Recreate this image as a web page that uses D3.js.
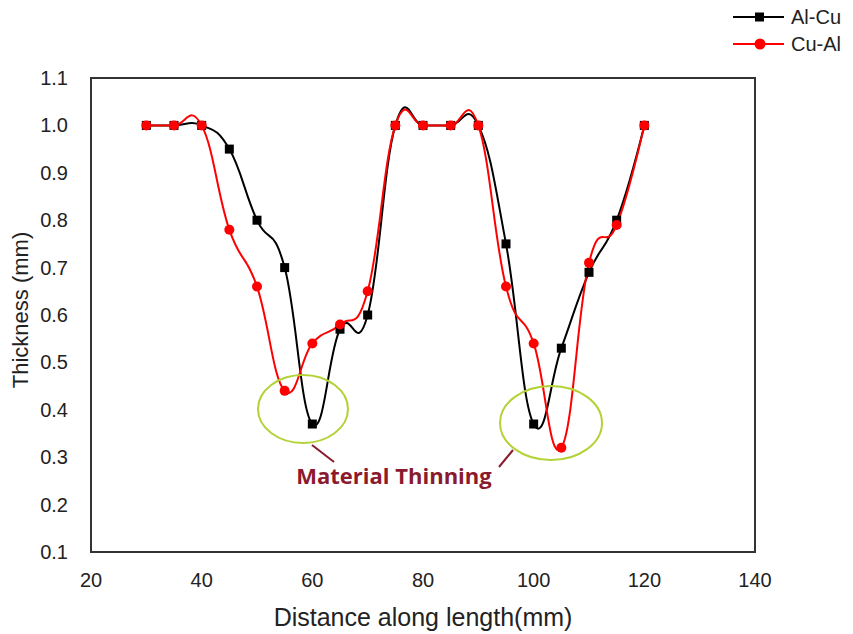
<!DOCTYPE html>
<html>
  <head>
    <script src="https://d3js.org/d3.v7.min.js"></script>
  </head>
  <body>
    <svg id="viz" width="853" height="634"></svg>
  </body>
  <script>
    const distance = [30, 35, 40, 45, 50, 55, 60, 65, 70, 75, 80, 85, 90, 95, 100, 105, 110, 115, 120];
    const alCu = [1.0, 1.0, 1.0, 0.95, 0.8, 0.7, 0.37, 0.57, 0.6, 1.0, 1.0, 1.0, 1.0, 0.75, 0.37, 0.53, 0.69, 0.8, 1.0];
    const cuAl = [1.0, 1.0, 1.0, 0.78, 0.66, 0.44, 0.54, 0.58, 0.65, 1.0, 1.0, 1.0, 1.0, 0.66, 0.54, 0.32, 0.71, 0.79, 1.0];
    const xTicks = [20, 40, 60, 80, 100, 120, 140];
    const yTicks = [0.1, 0.2, 0.3, 0.4, 0.5, 0.6, 0.7, 0.8, 0.9, 1.0, 1.1];
    const seriesNames = ["Al-Cu", "Cu-Al"];
    const seriesColors = ["#000000", "#ff0000"];

    function draw() {
      const svg = d3.select("svg#viz");
      const font = "Liberation Sans, Arial, sans-serif";

      const x = d3.scaleLinear().domain([20, 140]).range([91, 755]);
      const y = d3.scaleLinear().domain([0.1, 1.1]).range([552, 78]);

      svg.append("rect").attr("width", 853).attr("height", 634).attr("fill", "#fff");

      // tick labels (no tick marks in the original)
      svg.append("g")
        .selectAll("text")
        .data(xTicks)
        .join("text")
        .attr("x", (d) => x(d))
        .attr("y", 587)
        .attr("text-anchor", "middle")
        .attr("font-family", font)
        .attr("font-size", 20)
        .attr("fill", "#222")
        .text((d) => d);

      svg.append("g")
        .selectAll("text")
        .data(yTicks)
        .join("text")
        .attr("x", 68)
        .attr("y", (d) => y(d) + 7)
        .attr("text-anchor", "end")
        .attr("font-family", font)
        .attr("font-size", 20)
        .attr("fill", "#222")
        .text((d) => d3.format(".1f")(d));

      // plot box
      svg.append("rect")
        .attr("x", x(20))
        .attr("y", y(1.1))
        .attr("width", x(140) - x(20))
        .attr("height", y(0.1) - y(1.1))
        .attr("fill", "none")
        .attr("stroke", "#333")
        .attr("stroke-width", 2);

      // axis titles
      svg.append("text")
        .attr("x", 423)
        .attr("y", 626)
        .attr("text-anchor", "middle")
        .attr("font-family", font)
        .attr("font-size", 25)
        .attr("fill", "#222")
        .text("Distance along length(mm)");

      svg.append("text")
        .attr("transform", "translate(28,310) rotate(-90)")
        .attr("text-anchor", "middle")
        .attr("font-family", font)
        .attr("font-size", 22)
        .attr("fill", "#222")
        .text("Thickness (mm)");

      // Excel-like smoothed line, a bit looser than plain Catmull-Rom
      const line = d3.line()
        .x((d) => x(d[0]))
        .y((d) => y(d[1]))
        .curve(d3.curveCardinal.tension(-0.3));

      const series = [alCu, cuAl].map((vals) => distance.map((d, i) => [d, vals[i]]));

      series.forEach((pts, k) => {
        svg.append("path")
          .datum(pts)
          .attr("d", line)
          .attr("fill", "none")
          .attr("stroke", seriesColors[k])
          .attr("stroke-width", 2);
      });

      // markers: squares for Al-Cu, circles for Cu-Al
      svg.append("g")
        .selectAll("rect")
        .data(series[0])
        .join("rect")
        .attr("x", (d) => x(d[0]) - 4.5)
        .attr("y", (d) => y(d[1]) - 4.5)
        .attr("width", 9)
        .attr("height", 9)
        .attr("fill", seriesColors[0]);

      svg.append("g")
        .selectAll("circle")
        .data(series[1])
        .join("circle")
        .attr("cx", (d) => x(d[0]))
        .attr("cy", (d) => y(d[1]))
        .attr("r", 5)
        .attr("fill", seriesColors[1]);

      // annotation
      const ann = svg.append("g");
      ann.append("ellipse")
        .attr("cx", 303).attr("cy", 409).attr("rx", 45).attr("ry", 34)
        .attr("fill", "none").attr("stroke", "#b2d235").attr("stroke-width", 2);
      ann.append("ellipse")
        .attr("cx", 551).attr("cy", 423).attr("rx", 51).attr("ry", 37)
        .attr("fill", "none").attr("stroke", "#b2d235").attr("stroke-width", 2);
      ann.append("line")
        .attr("x1", 312).attr("y1", 445).attr("x2", 334).attr("y2", 462)
        .attr("stroke", "#8b1a2e").attr("stroke-width", 2);
      ann.append("line")
        .attr("x1", 513).attr("y1", 450).attr("x2", 499).attr("y2", 467)
        .attr("stroke", "#8b1a2e").attr("stroke-width", 2);
      ann.append("text")
        .attr("x", 394)
        .attr("y", 484)
        .attr("text-anchor", "middle")
        .attr("font-family", "Open Sans, sans-serif")
        .attr("font-weight", "bold")
        .attr("font-size", 22)
        .attr("fill", "#8b1a2e")
        .text("Material Thinning");

      // legend
      const legend = svg.append("g");
      seriesNames.forEach((name, k) => {
        const ly = 17 + k * 27;
        legend.append("line")
          .attr("x1", 733).attr("x2", 784).attr("y1", ly).attr("y2", ly)
          .attr("stroke", seriesColors[k]).attr("stroke-width", 2);
        if (k === 0) {
          legend.append("rect")
            .attr("x", 755).attr("y", ly - 4.5).attr("width", 9).attr("height", 9)
            .attr("fill", seriesColors[k]);
        } else {
          legend.append("circle")
            .attr("cx", 760).attr("cy", ly).attr("r", 5.5)
            .attr("fill", seriesColors[k]);
        }
        legend.append("text")
          .attr("x", 791)
          .attr("y", ly + 7)
          .attr("font-family", font)
          .attr("font-size", 20)
          .attr("fill", "#222")
          .text(name);
      });
    }

    draw();
  </script>
  <style>
    body {
      margin: 0px;
    }
  </style>
</html>
